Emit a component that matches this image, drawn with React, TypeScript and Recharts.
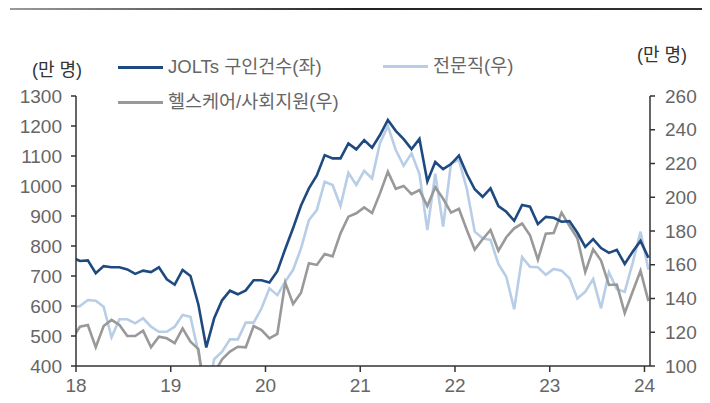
import React from 'react';
import { LineChart, Line, XAxis, YAxis } from 'recharts';

const months = Array.from({ length: 74 }, (_, i) => i);

const jolts = [762, 750, 752, 709, 733, 729, 729, 722, 707, 718, 713, 729, 689, 671, 720, 700, 605, 462, 559, 619, 651, 639, 652, 686, 686, 678, 716, 790, 860, 935, 992, 1035, 1103, 1092, 1092, 1142, 1122, 1153, 1128, 1170, 1220, 1184, 1156, 1123, 1157, 1015, 1080, 1056, 1073, 1101, 1040, 989, 964, 992, 933, 914, 884, 937, 931, 873, 897, 894, 881, 883, 844, 797, 823, 793, 777, 787, 740, 781, 817, 761];

const professional = [134.6, 135.6, 139.1, 138.7, 135.1, 117.0, 127.7, 127.7, 125.3, 128.3, 123.3, 120.3, 120.3, 123.3, 130.2, 129.2, 108, 80, 104, 108.5, 115.8, 115.8, 125.7, 125.7, 134.2, 146, 142, 150, 157, 169.7, 186.5, 192.4, 209.2, 207.3, 194.8, 214.5, 207.3, 215.7, 211.2, 232, 242.2, 228, 218.7, 226, 213.8, 180.6, 214, 182.6, 220.3, 222.1, 205, 179.6, 175.7, 174.7, 160.5, 152.9, 133.6, 164.5, 158.8, 158.5, 154, 157.5, 156.5, 152, 140, 144, 151.5, 134.2, 155.5, 145.5, 144, 161, 179.6, 157];

const healthcare = [116, 123.3, 124.3, 111.1, 123.7, 127.3, 124.3, 117.8, 117.8, 120.9, 111.1, 117.4, 116.4, 113.5, 122.3, 114.4, 110, 78, 95.6, 104, 108.5, 111.4, 111.1, 123.7, 121.3, 116.4, 119, 149.4, 136.7, 143.4, 160.9, 159.9, 166.4, 165, 178.6, 188.5, 190.5, 194, 190.7, 202.3, 215.1, 205, 206.7, 201.8, 204.3, 194.8, 205.9, 199.1, 190.9, 193.2, 180.6, 169, 175.1, 180.6, 168.3, 176.3, 181.6, 184.4, 177.5, 163, 178.4, 178.8, 190.9, 183, 175.7, 155.6, 169.2, 162.5, 148, 148.3, 131.4, 144, 156.4, 138.4];

const xTickPositions = [0.5, 12.5, 24.5, 36.5, 48.5, 60.5, 72.5];
const xTickLabels = ['18', '19', '20', '21', '22', '23', '24'];
const leftTicks = [400, 500, 600, 700, 800, 900, 1000, 1100, 1200, 1300];
const rightTicks = [100, 120, 140, 160, 180, 200, 220, 240, 260];

const seriesNames = ['JOLTs 구인건수(좌)', '전문직(우)', '헬스케어/사회지원(우)'];
const unitLabel = '(만 명)';

const data = months.map((m, i) => ({
  m,
  jolts: jolts[i],
  professional: professional[i],
  healthcare: healthcare[i],
}));

const NAVY = '#1F4A80';
const LIGHT = '#B8CDE6';
const GRAY = '#999999';
const TEXT = '#666666';
const FONT = "'Liberation Sans', 'Noto Sans CJK KR', sans-serif";

const tickStyle = { fill: TEXT, fontSize: 19, fontFamily: FONT };

const LegendItem = ({ x, y, color, label }: { x: number; y: number; color: string; label: string }) => (
  <div style={{ position: 'absolute', left: x, top: y - 14, height: 28, display: 'flex', alignItems: 'center' }}>
    <div style={{ width: 45, height: 3, background: color, marginRight: 5 }} />
    <span style={{ fontFamily: FONT, fontSize: 18.5, color: TEXT, whiteSpace: 'nowrap', lineHeight: '28px' }}>{label}</span>
  </div>
);

export default function App() {
  return (
    <div style={{ position: 'relative', width: 710, height: 403, margin: '-8px 0 0 -8px', background: '#fff', overflow: 'hidden' }}>
      <div style={{ position: 'absolute', left: 10, top: 8, width: 698, height: 2, background: 'linear-gradient(to right, #9a9a9a, #222 50%, #333)' }} />
      <LineChart
        width={710}
        height={403}
        data={data}
        margin={{ top: 96, right: 10, bottom: 7, left: 16 }}
        style={{ position: 'absolute', left: 0, top: 0 }}
      >
        <XAxis
          dataKey="m"
          type="number"
          domain={[0.5, 73.2]}
          allowDataOverflow
          ticks={xTickPositions}
          tickFormatter={(v: number) => xTickLabels[xTickPositions.indexOf(v)] ?? ''}
          height={30}
          tick={tickStyle}
          tickSize={6}
          tickMargin={7}
          axisLine={{ stroke: '#333', strokeWidth: 1.5 }}
          tickLine={{ stroke: '#333', strokeWidth: 1.5 }}
        />
        <YAxis
          yAxisId="left"
          orientation="left"
          domain={[400, 1300]}
          ticks={leftTicks}
          allowDataOverflow
          width={60}
          tick={tickStyle}
          tickSize={5}
          tickMargin={9}
          axisLine={{ stroke: '#333', strokeWidth: 1.5 }}
          tickLine={{ stroke: '#333', strokeWidth: 1.5 }}
          interval={0}
        />
        <YAxis
          yAxisId="right"
          orientation="right"
          domain={[100, 260]}
          ticks={rightTicks}
          allowDataOverflow
          width={50}
          tick={{ ...tickStyle, textAnchor: 'start' }}
          tickSize={5}
          tickMargin={10}
          axisLine={{ stroke: '#333', strokeWidth: 1.5 }}
          tickLine={{ stroke: '#333', strokeWidth: 1.5 }}
          interval={0}
        />
        <Line yAxisId="right" type="linear" dataKey="professional" stroke={LIGHT} strokeWidth={2.6} dot={false} isAnimationActive={false} />
        <Line yAxisId="right" type="linear" dataKey="healthcare" stroke={GRAY} strokeWidth={2.6} dot={false} isAnimationActive={false} />
        <Line yAxisId="left" type="linear" dataKey="jolts" stroke={NAVY} strokeWidth={2.6} dot={false} isAnimationActive={false} />
      </LineChart>
      <div style={{ position: 'absolute', left: 32, top: 55, fontFamily: FONT, fontSize: 18, color: '#333', whiteSpace: 'nowrap' }}>{unitLabel}</div>
      <div style={{ position: 'absolute', left: 637, top: 40, fontFamily: FONT, fontSize: 18, color: '#333', whiteSpace: 'nowrap' }}>{unitLabel}</div>
      <LegendItem x={118} y={67} color={NAVY} label={seriesNames[0]} />
      <LegendItem x={383} y={66} color={LIGHT} label={seriesNames[1]} />
      <LegendItem x={118} y={102} color={GRAY} label={seriesNames[2]} />
    </div>
  );
}
